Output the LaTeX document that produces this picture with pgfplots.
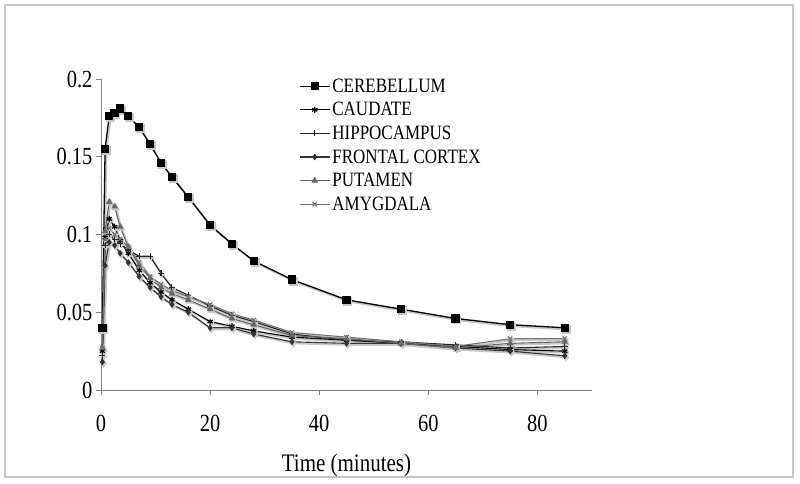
\documentclass[border=0pt]{standalone}
\usepackage{pgfplots}
\pgfplotsset{compat=1.18}
\usepackage{pgfplotstable}
\usepackage{fontspec}
\setmainfont{Liberation Serif}
\newcommand{\st}[1]{\scalebox{1}[1.2]{#1}}

\pgfplotstableread{
t     cer    cau    hip    fro    put    amy
0.25  0.040  0.025  0.022  0.018  0.027  0.027
0.75  0.155  0.098  0.093  0.080  0.102  0.097
1.5   0.176  0.110  0.100  0.095  0.121  0.104
2.5   0.178  0.105  0.097  0.093  0.118  0.100
3.5   0.181  0.096  0.094  0.088  0.105  0.097
5     0.176  0.088  0.090  0.082  0.092  0.092
7     0.169  0.077  0.086  0.073  0.080  0.082
9     0.158  0.069  0.086  0.066  0.072  0.073
11    0.146  0.063  0.075  0.060  0.066  0.068
13    0.137  0.058  0.066  0.055  0.062  0.064
16    0.124  0.052  0.061  0.050  0.058  0.060
20    0.106  0.044  0.054  0.040  0.052  0.055
24    0.094  0.041  0.048  0.040  0.046  0.049
28    0.083  0.038  0.044  0.036  0.042  0.045
35    0.071  0.034  0.036  0.031  0.035  0.037
45    0.058  0.032  0.032  0.030  0.033  0.034
55    0.052  0.030  0.031  0.030  0.030  0.031
65    0.046  0.028  0.029  0.027  0.027  0.028
75    0.042  0.026  0.027  0.025  0.030  0.033
85    0.040  0.025  0.028  0.022  0.031  0.033
}\data

\begin{document}
\begin{tikzpicture}[x=1pt,y=1pt]
\useasboundingbox (-101,-94) rectangle (699,390);
\draw[black!22, line width=1.5pt] (-96,-87) rectangle (692,385);
\begin{axis}[
  at={(0,0)}, anchor=south west,
  scale only axis, width=491pt, height=311pt,
  xmin=0, xmax=90, ymin=0, ymax=0.2,
  axis x line=bottom, axis y line=left,
  axis line style={-, black!50, line width=0.9pt},
  xtick={0,20,40,60,80}, ytick={0,0.05,0.1,0.15,0.2},
  xticklabels={\st{0},\st{20},\st{40},\st{60},\st{80}},
  yticklabels={\st{0},\st{0.05},\st{0.1},\st{0.15},\st{0.2}},
  tick align=outside, major tick length=5pt,
  tick style={black!50, line width=0.8pt},
  tick label style={font=\fontsize{20.5}{24}\selectfont},
  xticklabel style={yshift=-17pt},
  xlabel={\st{Time (minutes)}},
  xlabel style={font=\fontsize{21}{25}\selectfont, yshift=-15pt},
  clip=false,
  legend style={draw=none, fill=none, at={(0.403,1.008)}, anchor=north west,
    font=\fontsize{17}{20}\selectfont, inner sep=0pt, row sep=4.6pt,
    cells={anchor=west}},
  legend image code/.code={\draw[mark repeat=2,mark phase=2] plot coordinates {(0pt,0pt)(15pt,0pt)(30pt,0pt)};},
  shadow/.style={black!22, line width=2pt, xshift=1.3pt, yshift=-1.5pt, forget plot},
]
% shadows
\addplot[shadow, mark=square*, mark size=3.5pt] table[x=t,y=cer] {\data};
\addplot[shadow, mark=asterisk, mark size=3pt] table[x=t,y=cau] {\data};
\addplot[shadow, mark=+, mark size=3pt] table[x=t,y=hip] {\data};
\addplot[shadow, mark=diamond*, mark size=2.5pt] table[x=t,y=fro] {\data};
\addplot[shadow, mark=triangle*, mark size=2.8pt] table[x=t,y=put] {\data};
\addplot[shadow, mark=x, mark size=3pt] table[x=t,y=amy] {\data};
% series
\addplot[black, line width=1.3pt, mark=square*, mark size=3.5pt] table[x=t,y=cer] {\data};
\addlegendentry{\st{CEREBELLUM}}
\addplot[black, line width=1.1pt, mark=asterisk, mark size=3pt, mark options={line width=1.2pt}] table[x=t,y=cau] {\data};
\addlegendentry{\st{CAUDATE}}
\addplot[black!85, line width=1.1pt, mark=+, mark size=3pt] table[x=t,y=hip] {\data};
\addlegendentry{\st{HIPPOCAMPUS}}
\addplot[black!80, line width=1.1pt, mark=diamond*, mark size=2.5pt] table[x=t,y=fro] {\data};
\addlegendentry{\st{FRONTAL CORTEX}}
\addplot[black!60, line width=1.1pt, mark=triangle*, mark size=2.8pt] table[x=t,y=put] {\data};
\addlegendentry{\st{PUTAMEN}}
\addplot[black!55, line width=1.1pt, mark=x, mark size=3pt] table[x=t,y=amy] {\data};
\addlegendentry{\st{AMYGDALA}}
\end{axis}
\end{tikzpicture}
\end{document}
